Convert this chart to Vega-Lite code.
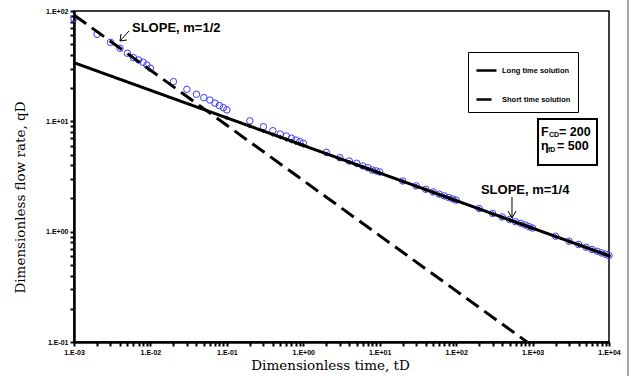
{
  "$schema": "https://vega.github.io/schema/vega-lite/v6.json",
  "autosize": "none",
  "width": 535,
  "height": 331,
  "padding": {"left": 74, "top": 11, "right": 28, "bottom": 34},
  "background": "white",
  "config": {
    "view": {"stroke": "black", "strokeWidth": 1.5},
    "axis": {
      "grid": false,
      "ticks": true,
      "domainColor": "black",
      "domainWidth": 2.5,
      "tickColor": "black",
      "tickWidth": 2,
      "tickSize": 4,
      "labelFont": "Liberation Sans",
      "labelFontWeight": "bold",
      "labelFontSize": 7,
      "labelColor": "black",
      "titleFont": "DejaVu Serif",
      "titleFontWeight": "normal",
      "titleFontSize": 13.5,
      "titleColor": "black"
    }
  },
  "datasets": {
    "curves": [
      {"series": "Long time solution", "t": 0.001, "q": 34},
      {"series": "Long time solution", "t": 10000, "q": 0.605},
      {"series": "Short time solution", "t": 0.001, "q": 92},
      {"series": "Short time solution", "t": 846, "q": 0.1}
    ],
    "circles": [
      {"t": 0.001, "q": 85.9}, {"t": 0.002, "q": 61.5}, {"t": 0.003, "q": 52.0}, {"t": 0.004, "q": 45.9},
      {"t": 0.005, "q": 41.4}, {"t": 0.006, "q": 37.8}, {"t": 0.007, "q": 36.0}, {"t": 0.008, "q": 34.3},
      {"t": 0.009, "q": 32.4}, {"t": 0.01, "q": 30.3}, {"t": 0.02, "q": 22.9}, {"t": 0.03, "q": 19.5},
      {"t": 0.04, "q": 17.6}, {"t": 0.05, "q": 16.4}, {"t": 0.06, "q": 15.6}, {"t": 0.07, "q": 14.6},
      {"t": 0.08, "q": 13.9}, {"t": 0.09, "q": 13.3}, {"t": 0.1, "q": 12.7}, {"t": 0.2, "q": 10.1},
      {"t": 0.3, "q": 8.94}, {"t": 0.4, "q": 8.22}, {"t": 0.5, "q": 7.68}, {"t": 0.6, "q": 7.36},
      {"t": 0.7, "q": 7.02}, {"t": 0.8, "q": 6.77}, {"t": 0.9, "q": 6.54}, {"t": 1, "q": 6.32},
      {"t": 2, "q": 5.24}, {"t": 3, "q": 4.68}, {"t": 4, "q": 4.37}, {"t": 5, "q": 4.17},
      {"t": 6, "q": 3.94}, {"t": 7, "q": 3.80}, {"t": 8, "q": 3.62}, {"t": 9, "q": 3.55},
      {"t": 10, "q": 3.47}, {"t": 20, "q": 2.88}, {"t": 30, "q": 2.60}, {"t": 40, "q": 2.42},
      {"t": 50, "q": 2.29}, {"t": 60, "q": 2.19}, {"t": 70, "q": 2.11}, {"t": 80, "q": 2.04},
      {"t": 90, "q": 1.98}, {"t": 100, "q": 1.93}, {"t": 200, "q": 1.62}, {"t": 300, "q": 1.46},
      {"t": 400, "q": 1.36}, {"t": 500, "q": 1.29}, {"t": 600, "q": 1.23}, {"t": 700, "q": 1.19},
      {"t": 800, "q": 1.15}, {"t": 900, "q": 1.11}, {"t": 1000, "q": 1.08}, {"t": 2000, "q": 0.91},
      {"t": 3000, "q": 0.82}, {"t": 4000, "q": 0.765}, {"t": 5000, "q": 0.723}, {"t": 6000, "q": 0.690},
      {"t": 7000, "q": 0.664}, {"t": 8000, "q": 0.642}, {"t": 9000, "q": 0.624}, {"t": 10000, "q": 0.607}
    ],
    "markers": [
      {"t": 0.1, "q": 10.75}, {"t": 0.2, "q": 9.04}, {"t": 0.3, "q": 8.17}, {"t": 0.4, "q": 7.60},
      {"t": 0.5, "q": 7.19}, {"t": 0.6, "q": 6.87}, {"t": 0.7, "q": 6.61}, {"t": 0.8, "q": 6.39},
      {"t": 0.9, "q": 6.21}, {"t": 1, "q": 6.05}, {"t": 2, "q": 5.08}, {"t": 3, "q": 4.59},
      {"t": 4, "q": 4.28}, {"t": 5, "q": 4.04}, {"t": 6, "q": 3.86}, {"t": 7, "q": 3.72},
      {"t": 8, "q": 3.60}, {"t": 9, "q": 3.49}, {"t": 10, "q": 3.40}, {"t": 20, "q": 2.86},
      {"t": 30, "q": 2.58}, {"t": 40, "q": 2.40}, {"t": 50, "q": 2.27}, {"t": 60, "q": 2.17},
      {"t": 70, "q": 2.09}, {"t": 80, "q": 2.02}, {"t": 90, "q": 1.96}, {"t": 100, "q": 1.91},
      {"t": 200, "q": 1.61}, {"t": 300, "q": 1.45}, {"t": 400, "q": 1.35}, {"t": 500, "q": 1.28},
      {"t": 600, "q": 1.22}, {"t": 700, "q": 1.18}, {"t": 800, "q": 1.14}, {"t": 900, "q": 1.10},
      {"t": 1000, "q": 1.075}, {"t": 2000, "q": 0.904}, {"t": 3000, "q": 0.817}, {"t": 4000, "q": 0.760},
      {"t": 5000, "q": 0.719}, {"t": 6000, "q": 0.687}, {"t": 7000, "q": 0.661}, {"t": 8000, "q": 0.639},
      {"t": 9000, "q": 0.621}, {"t": 10000, "q": 0.605}
    ],
    "segments": [
      {"t": 0.00525, "q": 65.9, "t2": 0.0040, "q2": 53.5},
      {"t": 0.0040, "q": 53.5, "t2": 0.00412, "q2": 61.9},
      {"t": 0.0040, "q": 53.5, "t2": 0.00493, "q2": 54.6},
      {"t": 538, "q": 2.06, "t2": 538, "q2": 1.33},
      {"t": 538, "q": 1.33, "t2": 477, "q2": 1.54},
      {"t": 538, "q": 1.33, "t2": 607, "q2": 1.54}
    ],
    "slopes": [
      {"t": 0.00574, "q": 70.1, "label": "SLOPE, m=1/2"},
      {"t": 211, "q": 2.39, "label": "SLOPE, m=1/4"}
    ],
    "box": [
      {"t": 1178, "q": 10.5, "t2": 6966, "q2": 4.02}
    ],
    "boxBig": [
      {"t": 1288, "q": 7.36, "label": "F"},
      {"t": 2218, "q": 7.36, "label": "= 200"},
      {"t": 1288, "q": 5.50, "label": "η"},
      {"t": 2088, "q": 5.50, "label": "= 500"}
    ],
    "boxSmall": [
      {"t": 1641, "q": 7.21, "label": "CD"},
      {"t": 1592, "q": 5.27, "label": "fD"}
    ],
    "frame": [
      {"t": 17700, "q": 125.8, "t2": 17700, "q2": 0.0492}
    ]
  },
  "encoding": {
    "x": {
      "field": "t",
      "type": "quantitative",
      "scale": {"type": "log", "domain": [0.001, 10000], "nice": false},
      "axis": {
        "title": "Dimensionless time, tD",
        "values": [0.001,0.002,0.003,0.004,0.005,0.006,0.007,0.008,0.009,
                   0.01,0.02,0.03,0.04,0.05,0.06,0.07,0.08,0.09,
                   0.1,0.2,0.3,0.4,0.5,0.6,0.7,0.8,0.9,
                   1,2,3,4,5,6,7,8,9,
                   10,20,30,40,50,60,70,80,90,
                   100,200,300,400,500,600,700,800,900,
                   1000,2000,3000,4000,5000,6000,7000,8000,9000,10000],
        "labelExpr": "abs(log(datum.value)/LN10 - round(log(datum.value)/LN10)) < 0.01 ? '1.E' + (datum.value < 0.9 ? '-' : '+') + '0' + abs(round(log(datum.value)/LN10)) : ''",
        "labelPadding": 2,
        "labelFlush": false,
        "labelOverlap": false,
        "titleX": 256,
        "titleY": 27,
        "titleBaseline": "alphabetic",
        "titleAlign": "center"
      }
    },
    "y": {
      "field": "q",
      "type": "quantitative",
      "scale": {"type": "log", "domain": [0.1, 100], "nice": false},
      "axis": {
        "title": "Dimensionless flow rate, qD",
        "values": [0.1,0.2,0.3,0.4,0.5,0.6,0.7,0.8,0.9,
                   1,2,3,4,5,6,7,8,9,
                   10,20,30,40,50,60,70,80,90,100],
        "labelExpr": "abs(log(datum.value)/LN10 - round(log(datum.value)/LN10)) < 0.01 ? '1.E' + (datum.value < 0.9 ? '-' : '+') + '0' + abs(round(log(datum.value)/LN10)) : ''",
        "labelPadding": 2,
        "labelFlush": false,
        "labelOverlap": false,
        "titleAngle": -90,
        "titleX": -54,
        "titleY": 186,
        "titleAlign": "center",
        "titleBaseline": "middle"
      }
    }
  },
  "layer": [
    {
      "data": {"name": "frame"},
      "mark": {"type": "rule", "color": "#888888", "strokeWidth": 1.5, "clip": false},
      "encoding": {"x2": {"field": "t2"}, "y2": {"field": "q2"}}
    },
    {
      "data": {"name": "circles"},
      "mark": {"type": "point", "shape": "circle", "filled": false, "color": "#3a3aff", "size": 42, "strokeWidth": 1, "opacity": 1}
    },
    {
      "data": {"name": "curves"},
      "mark": {"type": "line", "color": "black", "strokeWidth": 3},
      "encoding": {
        "strokeDash": {
          "field": "series",
          "type": "nominal",
          "scale": {"domain": ["Long time solution", "Short time solution"], "range": [[1, 0], [15, 7]]},
          "legend": {
            "title": null,
            "orient": "none",
            "legendX": 394,
            "legendY": 41,
            "strokeColor": "black",
            "fillColor": "white",
            "padding": 7,
            "symbolType": "stroke",
            "symbolSize": 400,
            "symbolStrokeWidth": 2.5,
            "symbolStrokeColor": "black",
            "labelFont": "Liberation Sans",
            "labelFontWeight": "bold",
            "labelFontSize": 7.5,
            "labelColor": "black",
            "rowPadding": 12,
            "labelOffset": 4
          }
        }
      }
    },
    {
      "data": {"name": "markers"},
      "mark": {"type": "point", "shape": "diamond", "filled": true, "color": "black", "size": 22, "opacity": 1}
    },
    {
      "data": {"name": "segments"},
      "mark": {"type": "rule", "color": "black", "strokeWidth": 1},
      "encoding": {"x2": {"field": "t2"}, "y2": {"field": "q2"}}
    },
    {
      "data": {"name": "slopes"},
      "mark": {"type": "text", "align": "left", "baseline": "middle", "font": "Liberation Sans", "fontWeight": "bold", "fontSize": 13, "color": "black"},
      "encoding": {"text": {"field": "label"}}
    },
    {
      "data": {"name": "box"},
      "mark": {"type": "rect", "fill": "white", "stroke": "black", "strokeWidth": 2},
      "encoding": {"x2": {"field": "t2"}, "y2": {"field": "q2"}}
    },
    {
      "data": {"name": "boxBig"},
      "mark": {"type": "text", "align": "left", "baseline": "alphabetic", "font": "Liberation Sans", "fontWeight": "bold", "fontSize": 12.5, "color": "black"},
      "encoding": {"text": {"field": "label"}}
    },
    {
      "data": {"name": "boxSmall"},
      "mark": {"type": "text", "align": "left", "baseline": "alphabetic", "font": "Liberation Sans", "fontWeight": "bold", "fontSize": 7, "color": "black"},
      "encoding": {"text": {"field": "label"}}
    }
  ]
}
